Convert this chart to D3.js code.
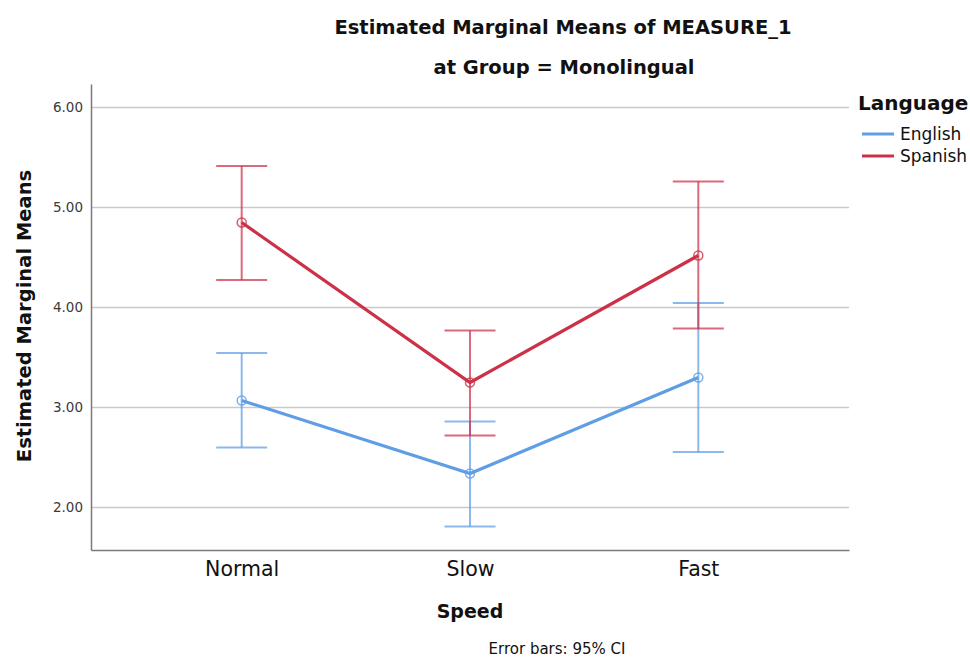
<!DOCTYPE html>
<html><head><meta charset="utf-8">
<script src="https://cdn.jsdelivr.net/npm/d3@7"></script>
<style>
html,body{margin:0;padding:0;background:#fff;}
svg text{font-family:"DejaVu Sans","Open Sans",sans-serif;}
</style></head>
<body>
<svg id="chart" width="970" height="659"></svg>
<script>
const categories = ["Normal","Slow","Fast"];
const seriesNames = ["English","Spanish"];
const englishMean = [3.07, 2.34, 3.30];
const englishLow  = [2.60, 1.81, 2.555];
const englishHigh = [3.545, 2.86, 4.045];
const spanishMean = [4.85, 3.25, 4.52];
const spanishLow  = [4.275, 2.72, 3.79];
const spanishHigh = [5.415, 3.77, 5.26];
const yTicks = [2, 3, 4, 5, 6];
const colors = ["#5f9de4", "#cc3148"];

const series = [
  {name: seriesNames[0], mean: englishMean, low: englishLow, high: englishHigh, color: colors[0]},
  {name: seriesNames[1], mean: spanishMean, low: spanishLow, high: spanishHigh, color: colors[1]}
];

const svg = d3.select("#chart");
const mLeft = 91, mRight = 849, mTop = 84, mBottom = 550;

const x = d3.scalePoint().domain(categories).range([mLeft, mRight]).padding(0.66);
const y = d3.scaleLinear().domain([1.575, 6.235]).range([mBottom, mTop]);

// gridlines
svg.append("g").selectAll("line").data(yTicks).join("line")
  .attr("x1", mLeft).attr("x2", mRight)
  .attr("y1", d => y(d)).attr("y2", d => y(d))
  .attr("stroke", "#c9c9c9").attr("stroke-width", 1.5);

// y axis
const yAxis = d3.axisLeft(y).tickValues(yTicks).tickFormat(d3.format(".2f")).tickSize(0).tickPadding(8);
const gy = svg.append("g").attr("transform", `translate(${mLeft},0)`).call(yAxis);
gy.select(".domain").attr("stroke", "#7a7a7a").attr("stroke-width", 1.5);
gy.selectAll("text").attr("font-size", 13.5).attr("fill", "#3a3a3a");

// x axis
const xAxis = d3.axisBottom(x).tickSize(0).tickPadding(11);
const gx = svg.append("g").attr("transform", `translate(0,${mBottom})`).call(xAxis);
gx.select(".domain").attr("stroke", "#7a7a7a").attr("stroke-width", 1.5);
gx.selectAll("text").attr("font-size", 20.5).attr("fill", "#111");

// error bars
const capHalf = 25.5;
series.forEach(s => {
  const g = svg.append("g").attr("stroke", s.color).attr("stroke-opacity", 0.72).attr("stroke-width", 2);
  categories.forEach((c, i) => {
    const cx = x(c);
    g.append("line").attr("x1", cx).attr("x2", cx).attr("y1", y(s.low[i])).attr("y2", y(s.high[i]));
    g.append("line").attr("x1", cx - capHalf).attr("x2", cx + capHalf).attr("y1", y(s.low[i])).attr("y2", y(s.low[i]));
    g.append("line").attr("x1", cx - capHalf).attr("x2", cx + capHalf).attr("y1", y(s.high[i])).attr("y2", y(s.high[i]));
  });
});

// lines and markers
const line = d3.line().x((d, i) => x(categories[i])).y(d => y(d));
series.forEach(s => {
  svg.append("path").datum(s.mean).attr("d", line)
    .attr("fill", "none").attr("stroke", s.color).attr("stroke-width", 3.2);
  svg.append("g").selectAll("circle").data(s.mean).join("circle")
    .attr("cx", (d, i) => x(categories[i])).attr("cy", d => y(d)).attr("r", 4.5)
    .attr("fill", "none").attr("stroke", s.color).attr("stroke-opacity", 0.8).attr("stroke-width", 1.5);
});

// titles
svg.append("text").attr("x", 563).attr("y", 34).attr("text-anchor", "middle")
  .attr("font-size", 19.5).attr("font-weight", "bold").attr("fill", "#111")
  .text("Estimated Marginal Means of MEASURE_1");
svg.append("text").attr("x", 564).attr("y", 74).attr("text-anchor", "middle")
  .attr("font-size", 19.5).attr("font-weight", "bold").attr("fill", "#111")
  .text("at Group = Monolingual");

// axis titles
svg.append("text").attr("transform", `translate(31,${(mTop+mBottom)/2 - 1}) rotate(-90)`)
  .attr("text-anchor", "middle").attr("font-size", 19.5).attr("font-weight", "bold").attr("fill", "#111")
  .text("Estimated Marginal Means");
svg.append("text").attr("x", x("Slow")).attr("y", 618).attr("text-anchor", "middle")
  .attr("font-size", 19).attr("font-weight", "bold").attr("fill", "#111").text("Speed");
svg.append("text").attr("x", 557).attr("y", 654).attr("text-anchor", "middle")
  .attr("font-size", 15).attr("fill", "#111").text("Error bars: 95% CI");

// legend
const lg = svg.append("g");
lg.append("text").attr("x", 858).attr("y", 110).attr("font-size", 20).attr("font-weight", "bold")
  .attr("fill", "#111").text("Language");
series.forEach((s, i) => {
  const ly = 134 + i * 22;
  lg.append("line").attr("x1", 862).attr("x2", 894).attr("y1", ly).attr("y2", ly)
    .attr("stroke", s.color).attr("stroke-width", 3);
  lg.append("text").attr("x", 900).attr("y", ly + 6).attr("font-size", 17).attr("fill", "#111").text(s.name);
});
</script>
</body></html>
